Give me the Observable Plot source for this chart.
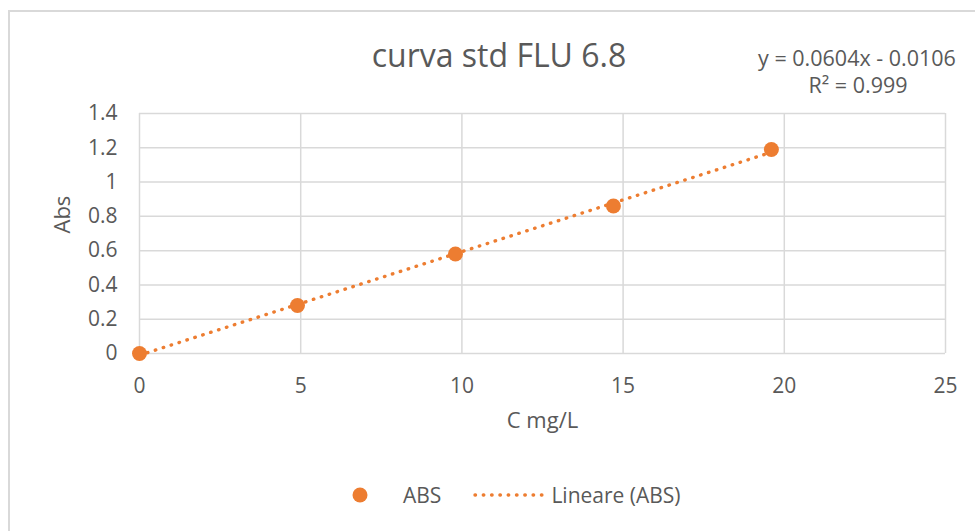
<!DOCTYPE html>
<html>
<head>
<meta charset="utf-8">
<script src="https://cdn.jsdelivr.net/npm/d3@7"></script>
<script src="https://cdn.jsdelivr.net/npm/@observablehq/plot@0.6"></script>
<style>
  html, body { margin: 0; padding: 0; background: #fff; }
  #wrap { position: relative; width: 975px; height: 531px; overflow: hidden; background: #fff; font-family: "Open Sans", sans-serif; color: #595959; }
  #border { position: absolute; left: 8px; top: 10px; width: 1100px; height: 700px; border: 2px solid #d9d9d9; box-sizing: border-box; }
  #chart { position: absolute; left: 0; top: 0; }
  .txt { position: absolute; white-space: nowrap; line-height: 1; }
  #title { left: 199px; width: 600px; text-align: center; top: 39px; font-size: 32px; }
  #eq { left: 707px; width: 300px; text-align: center; top: 47px; font-size: 21.5px; }
  #r2 { left: 708px; width: 300px; text-align: center; top: 74px; font-size: 21.5px; }
  #legend { position: absolute; top: 483px; left: 352px; height: 24px; display: flex; align-items: center; font-size: 21px; line-height: 1; }
</style>
</head>
<body>
<div id="wrap">
  <div id="border"></div>
  <div id="chart"></div>
  <div id="title" class="txt"></div>
  <div id="eq" class="txt"></div>
  <div id="r2" class="txt"></div>
  <div id="legend"></div>
</div>
<script>
// Data
const concentration = [0, 4.9, 9.8, 14.7, 19.6];   // C mg/L
const absorbance = [0, 0.28, 0.58, 0.86, 1.19];    // ABS
const xTicks = [0, 5, 10, 15, 20, 25];
const yTicks = [0, 0.2, 0.4, 0.6, 0.8, 1, 1.2, 1.4];
const titleText = "curva std FLU 6.8";
const equationText = "y = 0.0604x - 0.0106";
const r2Text = "R² = 0.999";
const seriesName = "ABS";
const trendName = "Lineare (ABS)";
const xLabel = "C mg/L";
const yLabel = "Abs";

const orange = "#ED7D31";
const grid = "#d9d9d9";
const data = concentration.map((c, i) => ({c, a: absorbance[i]}));

const chart = Plot.plot({
  width: 975,
  height: 531,
  marginLeft: 139,
  marginRight: 30,
  marginTop: 113,
  marginBottom: 178,
  style: {fontFamily: "Open Sans, sans-serif", fontSize: "21px", color: "#595959", background: "transparent", overflow: "visible"},
  x: {domain: [0, 25]},
  y: {domain: [0, 1.4]},
  marks: [
    Plot.gridX(xTicks, {stroke: grid, strokeOpacity: 1, strokeWidth: 1.5}),
    Plot.gridY(yTicks, {stroke: grid, strokeOpacity: 1, strokeWidth: 1.5}),
    Plot.axisX(xTicks, {tickSize: 0, tickPadding: 25, label: null, fill: "#595959"}),
    Plot.axisY(yTicks, {tickSize: 0, tickPadding: 22, label: null, fill: "#595959", tickFormat: d3.format("~g")}),
    Plot.linearRegressionY(data, {x: "c", y: "a", ci: 0, stroke: orange, strokeWidth: 3.4, strokeLinecap: "round", strokeDasharray: "0.5,7.8"}),
    Plot.dot(data, {x: "c", y: "a", r: 7.5, fill: orange, stroke: "none"}),
    Plot.text([xLabel], {frameAnchor: "bottom", dy: 74, fill: "#595959", fontSize: 22}),
    Plot.text([yLabel], {frameAnchor: "left", dx: -77, rotate: -90, fill: "#595959", fontSize: 22})
  ]
});
document.getElementById("chart").appendChild(chart);
document.getElementById("title").textContent = titleText;
document.getElementById("eq").textContent = equationText;
document.getElementById("r2").textContent = r2Text;

document.getElementById("legend").innerHTML =
  `<svg width="16" height="16" style="margin-right:35px"><circle cx="8" cy="8" r="7.5" fill="${orange}"/></svg>` +
  `<span>${seriesName}</span>` +
  `<svg width="72" height="10" style="margin-left:32px;margin-right:6px"><line x1="2" x2="70" y1="5" y2="5" stroke="${orange}" stroke-width="3.4" stroke-linecap="round" stroke-dasharray="0.5,7.8"/></svg>` +
  `<span>${trendName}</span>`;
</script>
</body>
</html>
